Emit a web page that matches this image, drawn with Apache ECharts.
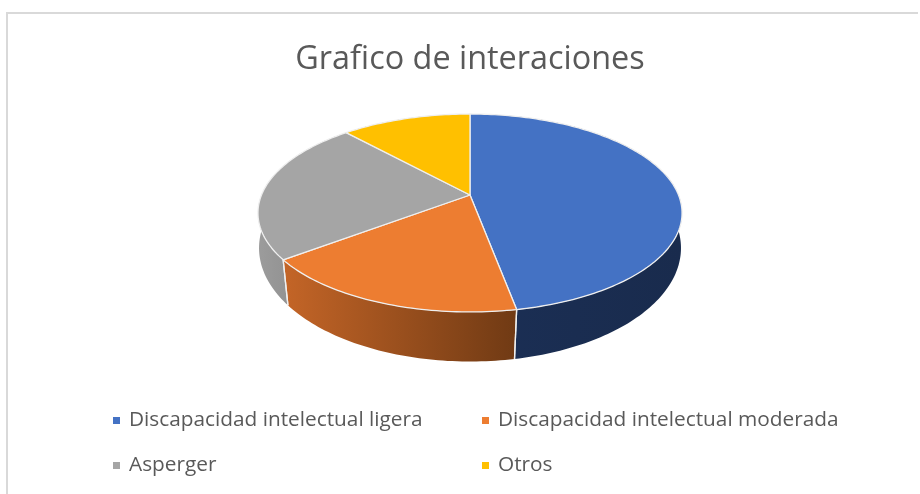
<!DOCTYPE html>
<html><head><meta charset="utf-8">
<style>html,body{margin:0;padding:0;background:#fff}#c{width:920px;height:494px}</style>
<script src="https://cdn.jsdelivr.net/npm/echarts@6/dist/echarts.min.js"></script>
</head><body><div id="c"></div>
<script>
const categories = ['Discapacidad intelectual ligera','Discapacidad intelectual moderada','Asperger','Otros'];
const values = [8,3,4,2];
const topColors = ['#4472C4','#ED7D31','#A5A5A5','#FFC000'];
const sideStops = [['#1B2F55','#192B4D'],['#C46527','#703A14'],['#9C9C9C','#808080'],['#BF9000','#8F6C00']];

const total = values.reduce((a,b)=>a+b,0);
const startAngles = values.map((v,i)=>values.slice(0,i).reduce((a,b)=>a+b,0)/total*Math.PI*2);
function proj(t,cx,cy,A,B,p){const X=Math.sin(t),Y=Math.cos(t),w=1+p*Y;return [cx+A*X/w,cy-B*Y/w];}
const topRim = t=>proj(t,470,195,208.5,95.7,0.1818);
const botRim = t=>proj(t,470,232.1,208.9,111.3,0.14);
function arc(f,a,b){const n=Math.max(4,Math.ceil((b-a)/0.02)),p=[];for(let i=0;i<=n;i++)p.push(f(a+(b-a)*i/n));return p;}

const renderSlice = idx => () => {
  const a=startAngles[idx], b=a+values[idx]/total*Math.PI*2;
  const top=arc(topRim,a,b), bot=arc(botRim,a,b);
  const edge={stroke:'#EFEFEF',lineWidth:1.3,lineJoin:'round'};
  const side=[];
  const sideFill=new echarts.graphic.LinearGradient(0,0,1,0,[{offset:0,color:sideStops[idx][0]},{offset:1,color:sideStops[idx][1]}]);
  side.push({type:'polygon',z2:1,shape:{points:top.concat(bot.slice().reverse())},style:{fill:sideFill,stroke:null}});
  [a,b].forEach(t=>{side.push({type:'line',z2:2,shape:{x1:topRim(t)[0],y1:topRim(t)[1],x2:botRim(t)[0],y2:botRim(t)[1]},style:{stroke:'#EFEFEF',lineWidth:1.3}});});
  const face={type:'polygon',z2:10,shape:{points:[[470,195]].concat(top)},style:Object.assign({fill:topColors[idx]},edge)};
  return {type:'group',children:side.concat([face])};
};

const legendBase={orient:'vertical',icon:'rect',itemWidth:7,itemHeight:7,itemGap:24,padding:0,selectedMode:false,
  textStyle:{fontFamily:'Open Sans',fontSize:20.8,color:'#595959',padding:[0,0,0,4]}};
const option={
  animation:false,backgroundColor:'#fff',
  title:{text:'Grafico de interaciones',left:465,top:39,textAlign:'center',
    textStyle:{fontFamily:'Open Sans',fontSize:32.4,fontWeight:'normal',color:'#595959'}},
  legend:[
    Object.assign({left:113,top:410,data:[categories[0],categories[2]]},legendBase),
    Object.assign({left:482,top:410,data:[categories[1],categories[3]]},legendBase)
  ],
  graphic:[
    {type:'polyline',shape:{points:[[7,494],[7,13],[918,13]]},style:{stroke:'#D9D9D9',lineWidth:2,fill:null}}
  ],
  series:categories.map((name,i)=>({type:'custom',name,coordinateSystem:'none',silent:true,
    itemStyle:{color:topColors[i]},data:[values[i]],renderItem:renderSlice(i),clip:false}))
};
echarts.init(document.getElementById('c'),null,{renderer:'canvas'}).setOption(option);
</script></body></html>
